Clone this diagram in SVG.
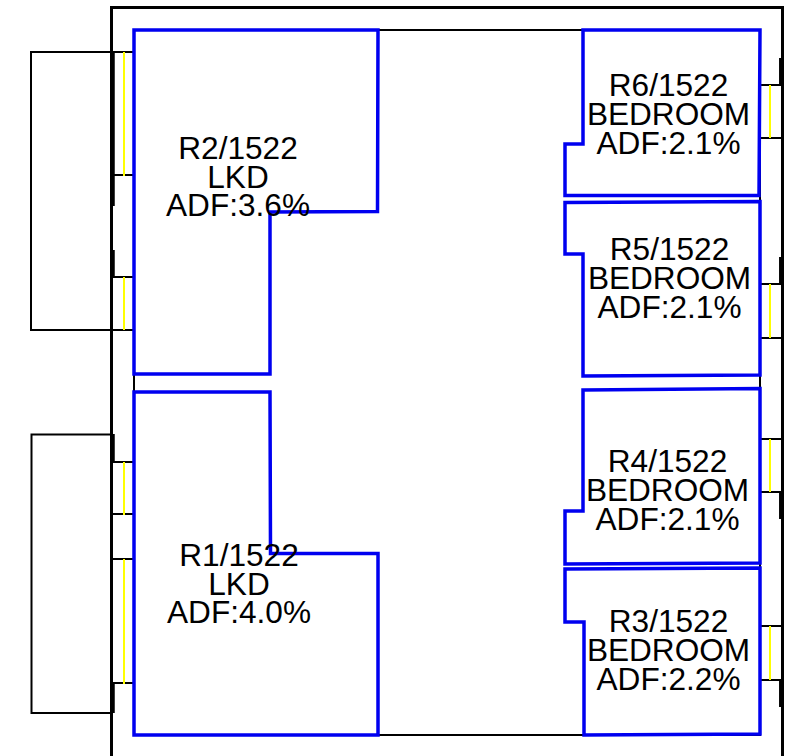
<svg xmlns="http://www.w3.org/2000/svg" width="798" height="756" viewBox="0 0 798 756">
<style>
.w{fill:none;stroke:#000;stroke-width:2}
.t{fill:none;stroke:#000;stroke-width:4.500}
.u{fill:none;stroke:#000;stroke-width:3.500}
.y{fill:none;stroke:#ffff00;stroke-width:2}
.r{fill:none;stroke:#0000f0;stroke-width:3.500;stroke-linejoin:miter}
text{font-family:"Liberation Sans",Arial,sans-serif;font-size:31.600px;fill:#000;text-anchor:middle}
</style>
<rect width="798" height="756" fill="#fff"/>
<g id="building">
<path class="w" style="stroke-width:3" d="M111.500 756V7.500H782.500V756"/>
<path class="w" d="M134 30H760V735H134Z"/>
</g>
<g id="windows">
<path class="w" d="M111 52H31V330H111"/>
<path class="w" d="M113 434.500H31.500V713H113"/>
<path class="w" d="M111 52H135M111 175H135M111 277H135M111 330H135M111 462H135M111 514H135M111 559H135M111 683H135"/>
<path class="w" d="M760 85H782M760 138H782M760 284H782M760 338H782M760 439H782M760 492H782M760 626H782M760 680H782"/>
<path class="t" d="M112.500 52V206M112.500 250V277M112.500 434V462M112.500 683V713"/>
<path class="u" d="M780.800 58V85M780.800 257V284M780.800 492V519M780.800 680V707"/>
<path class="y" d="M124 52V176M124 277V330M124 462V515M124 559V684M770 85V138M770 284V338M770 439V492M770 626V680"/>
</g>
<g id="R2"><path class="r" d="M134 30H378L377.500 211.500L270 212V374H134Z"/><text x="238" y="159">R2/1522</text><text x="238" y="187.500">LKD</text><text x="238" y="216">ADF:3.6%</text></g>
<g id="R1"><path class="r" d="M134 392H270L270.500 553.500H378V735H134Z"/><text x="239" y="566">R1/1522</text><text x="239" y="594.500">LKD</text><text x="239" y="623">ADF:4.0%</text></g>
<g id="R6"><path class="r" d="M583 30H760L759 195.500H565V144H583Z"/><text x="668.500" y="96">R6/1522</text><text x="668.500" y="125">BEDROOM</text><text x="668.500" y="153.500">ADF:2.1%</text></g>
<g id="R5"><path class="r" d="M565 202.500L760 201.500V375L583 376V254H565Z"/><text x="669.500" y="260">R5/1522</text><text x="669.500" y="289">BEDROOM</text><text x="669.500" y="317.500">ADF:2.1%</text></g>
<g id="R4"><path class="r" d="M583 390L760 388.500V563L565 564V511H583Z"/><text x="667.500" y="472">R4/1522</text><text x="667.500" y="500.500">BEDROOM</text><text x="667.500" y="529.500">ADF:2.1%</text></g>
<g id="R3"><path class="r" d="M565 569L760 568V734L584 735V622H565Z"/><text x="668.500" y="632">R3/1522</text><text x="668.500" y="660.500">BEDROOM</text><text x="668.500" y="689.500">ADF:2.2%</text></g>
</svg>
